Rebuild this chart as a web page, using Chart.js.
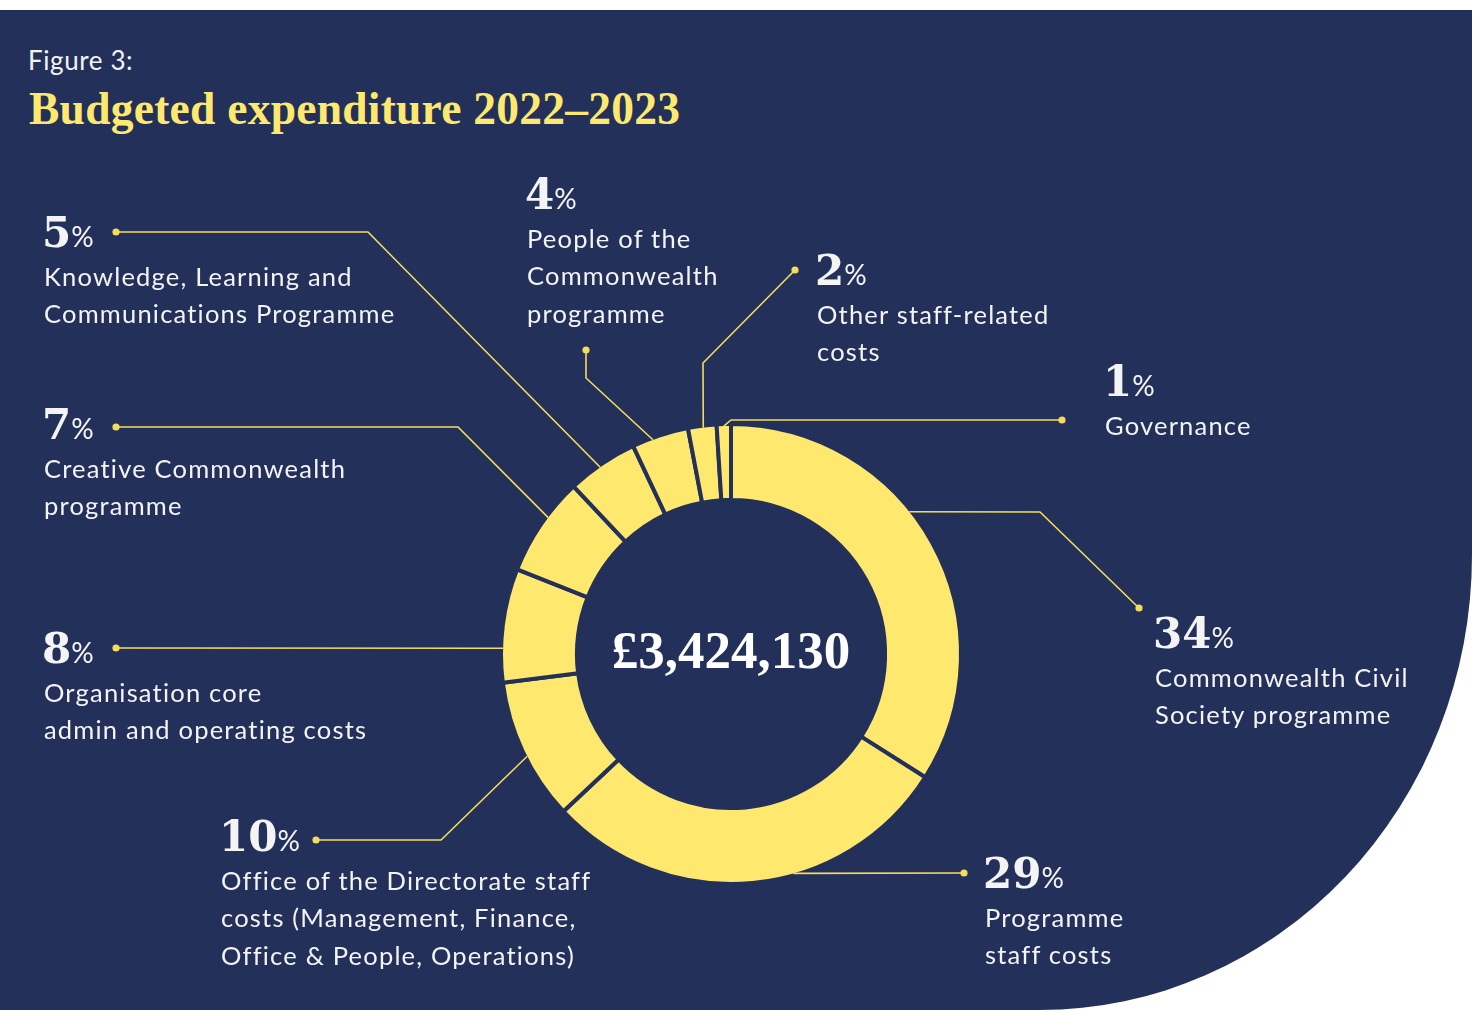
<!DOCTYPE html>
<html>
<head>
<meta charset="utf-8">
<title>Budgeted expenditure 2022–2023</title>
<script src="https://cdn.jsdelivr.net/npm/chart.js@4.4.0/dist/chart.umd.min.js"></script>
<style>
  html, body { margin: 0; padding: 0; background: #fff; }
  body { width: 1477px; height: 1012px; position: relative; overflow: hidden; font-family: Lato, sans-serif; }
  #panel {
    position: absolute; left: 0; top: 10px; width: 1472px; height: 1000px;
    background: #23305a; border-bottom-right-radius: 432px 455px;
  }
  #wrap { position: absolute; left: 0; top: 0; width: 1477px; height: 1012px; }
  .fig { position: absolute; left: 28px; top: 45px; color: #f4f4f4; font-size: 26px; line-height: 30px; letter-spacing: 0.6px; }
  .title {
    position: absolute; left: 29px; top: 84px; color: #ffe86e; white-space: nowrap;
    font-family: "Liberation Serif", serif; font-weight: bold; font-size: 45.5px; line-height: 50px; letter-spacing: 0.25px;
  }
  #total {
    position: absolute; left: 531px; width: 400px; top: 620px; text-align: center; color: #fff;
    font-family: "Liberation Serif", serif; font-weight: bold; font-size: 53px; line-height: 60px;
  }
  .label { position: absolute; color: #f4f4f4; }
  .pct {
    height: 47.5px; line-height: 46px; white-space: nowrap; margin-left: -2px;
    font-family: "DejaVu Serif", serif; font-weight: bold; font-size: 42px;
  }
  .pct .sym { font-family: Lato, sans-serif; font-weight: 400; font-size: 28px; line-height: 0; margin-left: 0; }
  .txt { font-size: 25.5px; line-height: 37.5px; letter-spacing: 1.2px; white-space: nowrap; }
</style>
</head>
<body>
<div id="panel"></div>
<div class="fig">Figure 3:</div>
<div class="title">Budgeted expenditure 2022–2023</div>
<div id="wrap"><canvas id="budgetChart"></canvas></div>
<div id="total"></div>
<div id="labels"></div>

<script>
// ===== DATA =====
const categories = [
  ["Commonwealth Civil", "Society programme"],
  ["Programme", "staff costs"],
  ["Office of the Directorate staff", "costs (Management, Finance,", "Office & People, Operations)"],
  ["Organisation core", "admin and operating costs"],
  ["Creative Commonwealth", "programme"],
  ["Knowledge, Learning and", "Communications Programme"],
  ["People of the", "Commonwealth", "programme"],
  ["Other staff-related", "costs"],
  ["Governance"]
]
const shares      = [34, 29, 10, 8, 7, 5, 4, 2, 1]
const totalBudget = 3424130

// ===== COLOURS =====
const NAVY   = "#23305a"
const YELLOW = "#ffe86e"
const RING   = 4

// ===== CALLOUT LAYOUT =====
// x/y: top-left of each label block, along: where the leader leaves the arc,
// path: elbow points of the leader, the last one carries the dot
const callouts = [
  { x: 1155, y: 611, along: 0.42, path: [[1040, 512], [1139, 608]] },
  { x: 985,  y: 851, along: 0.40, path: [[964, 873]] },
  { x: 221,  y: 814, along: 0.46, path: [[441, 840], [316, 840]] },
  { x: 44,   y: 626, along: 0.30, path: [[116, 648]] },
  { x: 44,   y: 402, along: 0.60, path: [[458, 427], [116, 427]] },
  { x: 44,   y: 210, along: 0.455, path: [[368, 232], [116, 232]] },
  { x: 527,  y: 172, along: 0.36, path: [[586, 378], [586, 350]] },
  { x: 817,  y: 248, along: 0.53, path: [[703, 363], [795, 270]] },
  { x: 1105, y: 359, along: 0.50, path: [[731, 420], [1062, 420]] }
]

// ===== LABELS =====
document.getElementById("total").textContent = "£" + totalBudget.toLocaleString("en-GB")

document.getElementById("labels").innerHTML = callouts.map((c, i) => `
  <div class="label" style="left:${c.x}px;top:${c.y}px">
    <div class="pct">${shares[i]}<span class="sym">%</span></div>
    ${categories[i].map(line => `<div class="txt">${line.replace("&", "&amp;")}</div>`).join("")}
  </div>
`).join("")

// ===== LEADER LINES =====
const leaderLines = {
  id: "leaderLines",
  afterDatasetsDraw(chart) {
    const ctx  = chart.ctx
    const arcs = chart.getDatasetMeta(0).data
    ctx.save()
    ctx.strokeStyle = "#f6dc5c"
    ctx.fillStyle   = "#f6dc5c"
    ctx.lineWidth   = 1.6
    ctx.lineJoin    = "miter"
    callouts.forEach((c, i) => {
      const arc = arcs[i]
      const a   = arc.startAngle + c.along * (arc.endAngle - arc.startAngle)
      const r   = arc.outerRadius - RING / 2
      ctx.beginPath()
      ctx.moveTo(arc.x + Math.cos(a) * r, arc.y + Math.sin(a) * r)
      c.path.forEach(([px, py]) => ctx.lineTo(px, py))
      ctx.stroke()
      const [dx, dy] = c.path[c.path.length - 1]
      ctx.beginPath()
      ctx.arc(dx, dy, 3.6, 0, Math.PI * 2)
      ctx.fill()
    })
    ctx.restore()
  }
}

// ===== CHART =====
const ctx = document.getElementById("budgetChart").getContext("2d")
new Chart(ctx, {
  type: "doughnut",
  data: {
    labels: categories.map(l => l.join(" ")),
    datasets: [{
      data: shares,
      backgroundColor: YELLOW,
      borderColor: NAVY,
      borderWidth: RING,
      hoverBorderWidth: RING,
      hoverBackgroundColor: YELLOW,
      hoverBorderColor: NAVY
    }]
  },
  options: {
    responsive: true,
    maintainAspectRatio: false,
    animation: false,
    events: [],
    cutout: "67%",
    layout: { padding: { left: 499, top: 422, right: 514, bottom: 126 } },
    plugins: { legend: { display: false }, tooltip: { enabled: false } }
  },
  plugins: [leaderLines]
})
</script>
</body>
</html>
